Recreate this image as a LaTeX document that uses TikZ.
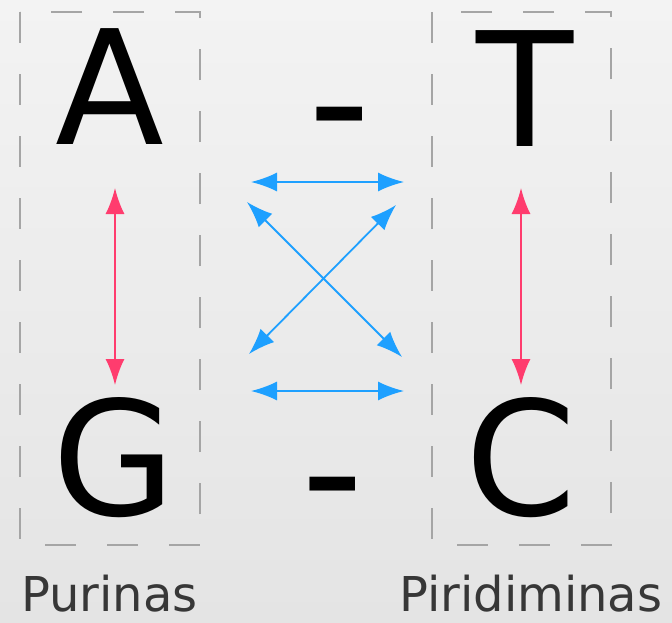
\documentclass[tikz,border=0pt]{standalone}
\usepackage{fontspec}
\setmainfont{DejaVu Sans}
\usetikzlibrary{arrows.meta}
\definecolor{bluearr}{RGB}{30,160,255}
\definecolor{pinkarr}{RGB}{255,60,110}
\definecolor{boxgray}{RGB}{165,165,165}
\definecolor{labelgray}{RGB}{55,55,55}
\definecolor{bgtop}{RGB}{243,243,243}
\definecolor{bgbot}{RGB}{228,228,228}
\begin{document}
\begin{tikzpicture}[x=1pt,y=-1pt,
  letter/.style={inner sep=0pt, anchor=base, font=\fontsize{159}{160}\selectfont},
  dashbar/.style={inner sep=0pt, anchor=base, font=\fontsize{173}{174}\selectfont},
  lbl/.style={inner sep=0pt, anchor=base west, text=labelgray, font=\fontsize{48}{49}\selectfont},
  grp/.style={draw=boxgray, line width=1.6pt, dash pattern=on 31pt off 31pt},
  pairarr/.style={draw=pinkarr, line width=1.8pt, {Latex[length=26pt,width=19pt]}-{Latex[length=26pt,width=19pt]}},
  bondarr/.style={draw=bluearr, line width=1.8pt, {Latex[length=26pt,width=19pt]}-{Latex[length=26pt,width=19pt]}}
]
\shade[top color=bgtop, bottom color=bgbot] (0,0) rectangle (672,622);
\useasboundingbox (0,0) rectangle (672,622);

% group boxes
\draw[grp] (20,12) rectangle (200,545);
\draw[grp] (432,12) rectangle (611,545);

% bases
\node[letter] (A) at (110,144) {A};
\node[letter] (T) at (525.5,146) {T};
\node[letter] (G) at (114,515) {G};
\node[letter] (C) at (521.5,515) {C};

% dashes
\node[dashbar] (d1) at (339.5,161) {-};
\node[dashbar] (d2) at (333,531) {-};

% labels
\node[lbl] (pur) at (21,611) {Purinas};
\node[lbl] (pir) at (399,611) {Piridiminas};

% arrow end points
\coordinate (pa1) at (115,188);
\coordinate (pa2) at (115,385);
\coordinate (pb1) at (521,188);
\coordinate (pb2) at (521,385);
\coordinate (h1l) at (251,182);
\coordinate (h1r) at (404,182);
\coordinate (h2l) at (251,391);
\coordinate (h2r) at (404,391);
\coordinate (x1a) at (247,202);
\coordinate (x1b) at (402,357);
\coordinate (x2a) at (396,205);
\coordinate (x2b) at (249,354);

\draw[pairarr] (pa1) -- (pa2);
\draw[pairarr] (pb1) -- (pb2);
\draw[bondarr] (h1l) -- (h1r);
\draw[bondarr] (h2l) -- (h2r);
\draw[bondarr] (x1a) -- (x1b);
\draw[bondarr] (x2a) -- (x2b);
\end{tikzpicture}
\end{document}
